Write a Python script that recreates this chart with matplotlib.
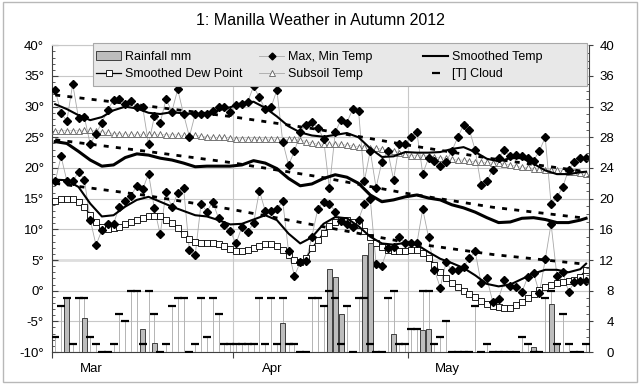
import matplotlib
matplotlib.use('Agg')
import matplotlib.pyplot as plt
from matplotlib.legend import Legend
from matplotlib.lines import Line2D
from matplotlib.patches import Patch, Rectangle
from matplotlib.ticker import MultipleLocator, FuncFormatter


plt.rcParams['font.family'] = ['Liberation Sans', 'DejaVu Sans']

TITLE = '1: Manilla Weather in Autumn 2012'
MONTHS = ['Mar', 'Apr', 'May']
MONTH_START = [0, 31, 61]
N_DAYS = 92

# daily values, 1 Mar .. 31 May (deg C, left axis)
max_temp = [32.7, 28.9, 27.7, 33.7, 28.1, 28.3, 23.9, 25.6, 27.4, 29.4,
            31.1, 31.3, 30.5, 31.0, 30.0, 29.9, 23.9, 28.4, 27.4, 31.2,
            29.2, 32.8, 28.8, 25.1, 28.8, 28.8, 28.8, 29.3, 29.9, 30.0,
            29.2, 30.3, 30.4, 30.8, 33.3, 31.5, 29.6, 29.9, 32.7, 24.3,
            20.5, 22.7, 25.8, 27.0, 27.5, 26.6, 24.8, 16.7, 25.8, 27.9,
            27.4, 29.6, 29.3, 17.9, 22.8, 16.8, 21.0, 22.8, 18.1, 23.9,
            23.9, 25.1, 25.8, 19.1, 21.6, 21.2, 20.3, 21.0, 22.8, 25.0,
            27.0, 26.2, 22.9, 17.2, 17.9, 19.7, 21.7, 22.9, 21.9, 22.1,
            21.9, 21.6, 21.2, 22.8, 25.0, 14.1, 15.2, 16.9, 19.7, 21.0,
            21.7, 21.7]
min_temp = [17.8, 21.9, 17.9, 17.8, 19.4, 18.1, 11.6, 7.4, 9.9, 10.9,
            10.9, 13.7, 14.7, 15.5, 17.1, 16.5, 19.1, 13.4, 9.2, 16.1,
            13.6, 15.9, 16.8, 6.6, 5.8, 14.2, 12.9, 14.5, 11.8, 10.7,
            9.7, 7.7, 10.4, 9.6, 11.0, 16.3, 13.0, 13.0, 13.3, 14.6,
            6.4, 2.4, 4.6, 4.8, 8.8, 13.3, 14.5, 14.2, 12.9, 11.4,
            10.9, 10.4, 11.6, 14.2, 15.0, 4.4, 4.1, 6.9, 7.2, 8.7,
            7.8, 7.7, 7.7, 13.3, 8.7, 3.4, 0.5, 4.6, 3.3, 3.4,
            3.9, 5.3, 6.4, 1.2, 2.0, -1.8, -1.3, 1.7, 0.8, 0.6,
            -0.2, 2.2, 2.9, -0.4, 5.1, 10.9, 2.4, 3.1, -0.2, 1.4,
            1.6, 1.6]
dew_point = [14.7, 14.9, 15.0, 14.9, 14.5, 13.7, 12.3, 11.2, 10.4, 10.0,
             10.2, 10.4, 10.9, 11.2, 11.6, 11.9, 12.2, 12.2, 12.1, 11.6,
             11.1, 10.2, 9.2, 8.4, 8.0, 7.8, 7.7, 7.7, 7.6, 7.3,
             6.8, 6.5, 6.4, 6.6, 6.9, 7.3, 7.6, 7.6, 7.3, 6.6,
             5.8, 5.0, 4.7, 5.3, 6.9, 8.2, 9.4, 10.5, 11.2, 11.6,
             11.6, 11.2, 10.7, 9.8, 8.7, 7.7, 7.2, 6.7, 6.5, 6.5,
             6.5, 6.7, 6.6, 6.1, 5.3, 4.2, 3.1, 2.0, 1.2, 0.6,
             0.0, -0.5, -1.1, -1.7, -2.1, -2.5, -2.7, -2.9, -2.8, -2.3,
             -1.8, -1.2, -0.5, 0.1, 0.6, 1.0, 1.3, 1.4, 1.5, 1.7,
             2.3, 3.4]
subsoil = [26.1, 26.1, 26.1, 26.1, 26.1, 26.2, 26.2, 26.1, 25.9, 25.8,
           25.6, 25.6, 25.5, 25.5, 25.5, 25.5, 25.5, 25.5, 25.5, 25.4,
           25.4, 25.4, 25.3, 25.3, 25.3, 25.2, 25.1, 25.0, 25.0, 25.0,
           24.9, 24.8, 24.7, 24.7, 24.7, 24.7, 24.7, 24.7, 24.7, 24.6,
           24.7, 24.7, 24.6, 24.3, 24.1, 23.9, 23.9, 23.9, 23.9, 23.9,
           23.7, 23.6, 23.5, 23.5, 23.3, 23.2, 23.1, 22.9, 22.8, 22.5,
           22.2, 22.0, 22.0, 22.0, 22.0, 21.8, 21.7, 21.6, 21.4, 21.3,
           21.3, 21.1, 21.0, 20.9, 20.9, 20.8, 20.8, 20.7, 20.5, 20.3,
           20.1, 20.1, 19.9, 19.8, 19.7, 19.7, 19.7, 19.6, 19.4, 19.4,
           19.2, 19.0]

# right axis: cloud (oktas) and rainfall (mm)
cloud = [2, 6, 7, 1, 7, 7, 2, 1, 0, 0,
         1, 5, 4, 8, 8, 1, 8, 5, 0, 1,
         6, 7, 7, 0, 1, 7, 2, 7, 5, 1,
         1, 1, 1, 1, 1, 7, 1, 7, 1, 7,
         1, 1, 0, 0, 7, 7, 6, 8, 7, 1,
         6, 0, 7, 7, 1, 0, 0, 7, 8, 1,
         1, 3, 3, 8, 8, 1, 2, 4, 0, 0,
         0, 0, 6, 0, 1, 0, 0, 0, 0, 0,
         2, 1, 0, 0, 7, 8, 1, 5, 1, 0,
         0, 1]
rain = [0, 0, 7.0, 0, 0, 4.4, 0, 0, 0, 0,
        0, 0, 0, 0, 0, 3.0, 0, 1.2, 0, 0,
        0, 0, 0, 0, 0, 0, 0, 0, 0, 0,
        0, 0, 0, 0, 0, 0, 0, 0, 0, 3.8,
        0, 0, 0, 0, 0, 0, 0, 10.8, 9.8, 5.0,
        0, 0, 0, 12.6, 14.2, 0, 0, 0, 2.3, 0,
        0, 0, 0, 2.9, 3.0, 0, 0, 0, 0, 0,
        0, 0, 0, 0, 0, 0, 0, 0, 0, 0,
        0, 0, 0.6, 0, 0, 6.3, 1.2, 0, 0, 0,
        0, 0]

# smoothed temperatures, read every second day
smooth_days = [0, 2, 4, 6, 8, 10, 12, 14, 16, 18, 20, 22, 24, 26, 28, 30,
               32, 34, 36, 38, 40, 42, 44, 46, 48, 50, 52, 54, 56, 58, 60,
               62, 64, 66, 68, 70, 72, 74, 76, 78, 80, 82, 84, 86, 88, 90,
               91]
smooth_max = [30.4, 29.6, 28.6, 27.8, 28.3, 29.4, 30.0, 29.7, 29.0, 28.8,
              29.1, 28.9, 28.8, 28.9, 29.4, 29.9, 30.6, 30.8, 29.8, 28.4,
              26.8, 25.8, 25.3, 25.1, 25.4, 25.7, 25.0, 23.2, 21.8, 21.9,
              22.6, 22.5, 22.5, 22.6, 23.1, 23.4, 22.6, 21.5, 21.1, 21.6,
              21.6, 20.7, 19.6, 19.0, 19.0, 19.3, 19.4]
smooth_mean = [24.3, 24.0, 22.7, 21.3, 20.3, 20.5, 21.7, 22.3, 22.1, 21.6,
               21.3, 20.8, 20.2, 20.3, 20.3, 20.3, 20.5, 21.2, 20.8, 19.9,
               18.3, 17.1, 17.4, 18.3, 18.9, 18.5, 17.5, 15.6, 14.5, 14.8,
               15.3, 15.6, 15.1, 14.8, 14.0, 13.5, 12.8, 11.9, 11.1, 11.2,
               11.8, 11.9, 11.6, 11.1, 11.1, 11.5, 11.8]
smooth_min = [18.1, 18.0, 16.9, 14.2, 12.1, 12.3, 13.7, 14.8, 15.3, 14.5,
              13.7, 13.0, 12.3, 12.1, 11.5, 10.8, 10.9, 11.6, 12.3, 11.5,
              9.3, 7.7, 8.7, 10.9, 12.0, 11.8, 10.5, 8.8, 7.7, 7.5,
              7.8, 7.5, 6.3, 5.2, 4.5, 3.7, 2.5, 1.1, 0.7, 1.0,
              1.9, 2.8, 3.4, 3.4, 3.0, 3.5, 4.4]

# trend lines (dashed)
trend_days = [0, 15, 30, 45, 60, 75, 91]
trend_max = [31.9, 30.2, 28.4, 26.3, 23.8, 21.5, 19.4]
trend_mean = [24.6, 22.8, 20.9, 18.6, 15.9, 13.6, 11.8]
trend_min = [17.5, 15.6, 13.3, 10.6, 7.9, 5.9, 4.3]

GRID = '#c8c8c8'
BAR_GREY = '#bdbdbd'
LINE_GREY = '#a8a8a8'
W, H = 640.0, 384.0


def day_x(days):
    """Centre of each day on the date axis."""
    return [d + 0.5 for d in days]


def deg(value, pos):
    return '{0:.0f}\u00b0'.format(value)


def fig_xy(px, py):
    """Pixel position (from top left) to figure fraction."""
    return px / W, 1 - py / H


if __name__ == '__main__':
    fig = plt.figure(figsize=(6.4, 3.84), dpi=100)
    fig.patches.append(Rectangle((0.004, 0.005), 0.992, 0.99,
                                 transform=fig.transFigure, fill=False,
                                 edgecolor='#b8b8b8', linewidth=1))
    fig.text(0.5, 0.947, TITLE, ha='center', va='center', fontsize=11.5)

    ax = fig.add_axes([0.0817, 0.0833, 0.8386, 0.7987])
    ax.set_xlim(0, N_DAYS)
    ax.set_ylim(-10, 40)

    xs = day_x(range(N_DAYS))
    sx = day_x(smooth_days)
    tx = day_x(trend_days)

    # grid
    for v in range(-10, 41, 5):
        ax.axhline(v, color=GRID, lw=0.8, zorder=0)
    ax.axhline(5, color='#dedede', lw=2.0, zorder=0)
    for m in MONTH_START[1:]:
        ax.axvline(m, color=GRID, lw=0.8, zorder=0)

    # temperatures
    ax.plot(xs, max_temp, color=LINE_GREY, lw=0.6, zorder=2)
    ax.plot(xs, min_temp, color=LINE_GREY, lw=0.6, zorder=2)
    ax.plot(xs, subsoil, color='#c8c8c8', lw=0.5, marker='^', ms=4,
            mfc='white', mec='#606060', mew=0.6, zorder=3)
    ax.plot(xs, dew_point, color='black', lw=0.9, marker='s', ms=3.8,
            mfc='white', mec='black', mew=0.6, zorder=4)
    for trend in (trend_max, trend_mean, trend_min):
        ax.plot(tx, trend, color='black', lw=2.0, dashes=(1.8, 2.6),
                zorder=4)
    ax.plot(sx, smooth_max, color='black', lw=1.5, zorder=5)
    ax.plot(sx, smooth_mean, color='black', lw=2.2, zorder=5)
    ax.plot(sx, smooth_min, color='black', lw=1.5, zorder=5)
    ax.plot(xs, max_temp, ls='none', marker='D', ms=3.7, color='black',
            zorder=6)
    ax.plot(xs, min_temp, ls='none', marker='D', ms=3.7, color='black',
            zorder=6)

    ax.yaxis.set_major_locator(MultipleLocator(5))
    ax.yaxis.set_minor_locator(MultipleLocator(1))
    ax.yaxis.set_major_formatter(FuncFormatter(deg))
    ax.tick_params(axis='y', which='both', direction='in', labelsize=9.5,
                   pad=6, color='#404040')
    ax.tick_params(axis='y', which='major', length=4)
    ax.tick_params(axis='y', which='minor', length=2)

    ax.set_xticks(MONTH_START)
    ax.set_xticklabels([''] * len(MONTH_START))
    ax.set_xticks([m + 6.7 for m in MONTH_START], minor=True)
    ax.set_xticklabels(MONTHS, minor=True)
    ax.tick_params(axis='x', which='major', direction='out', length=4,
                   color='#404040')
    ax.tick_params(axis='x', which='minor', length=0, labelsize=9.5, pad=8)

    for side in ('left', 'bottom'):
        ax.spines[side].set_color('#404040')
    ax.spines['top'].set_color(GRID)
    ax.spines['right'].set_visible(False)

    # right axis: rain and cloud
    ax2 = ax.twinx()
    ax2.set_ylim(0, 40)
    ax2.bar(xs, rain, width=0.85, color=BAR_GREY, edgecolor='#404040',
            linewidth=0.7, zorder=2)
    ax2.vlines([x for x, c in zip(xs, cloud) if c > 0], 0,
               [c for c in cloud if c > 0], color='#b4b4b4', lw=0.7,
               zorder=1)
    ax2.plot(xs, cloud, ls='none', marker='_', ms=5.2, mew=1.6,
             color='black', zorder=3)
    ax2.yaxis.set_major_locator(MultipleLocator(4))
    ax2.yaxis.set_minor_locator(MultipleLocator(1))
    ax2.tick_params(axis='y', which='major', direction='out', length=3,
                    labelsize=9.5, pad=15, color='#404040')
    ax2.tick_params(axis='y', which='minor', direction='in', length=2,
                    color='#404040')
    for label in ax2.get_yticklabels():
        label.set_horizontalalignment('right')
    ax2.spines['right'].set_color('#404040')
    for side in ('left', 'top', 'bottom'):
        ax2.spines[side].set_visible(False)

    # legend: grey box with three fixed columns
    x0, y0 = fig_xy(93, 86)
    ax2.add_patch(Rectangle((x0, y0), (587 - 93) / W, 43 / H,
                            transform=fig.transFigure, facecolor='#e8e8e8',
                            edgecolor='#a8a8a8', lw=0.8, zorder=20,
                            clip_on=False))
    columns = [
        (125, [Patch(facecolor=BAR_GREY, edgecolor='#404040', linewidth=0.7),
               Line2D([], [], color='black', lw=0.9, marker='s', ms=3.8,
                      mfc='white', mec='black', mew=0.6)],
         ['Rainfall mm', 'Smoothed Dew Point']),
        (288, [Line2D([], [], color=LINE_GREY, lw=0.6, marker='D', ms=3.5,
                      mfc='black', mec='black'),
               Line2D([], [], color=LINE_GREY, lw=0.6, marker='^', ms=4,
                      mfc='white', mec='#606060', mew=0.6)],
         ['Max, Min Temp', 'Subsoil Temp']),
        (452, [Line2D([], [], color='black', lw=1.5),
               Line2D([], [], ls='none', marker='_', ms=5.2, mew=1.6,
                      color='black')],
         ['Smoothed Temp', '[T] Cloud']),
    ]
    fs = 9
    for text_x, handles, labels in columns:
        anchor = fig_xy(text_x - (2.0 + 0.3) * fs * 100 / 72, 51)
        leg = Legend(ax2, handles, labels, loc='upper left',
                     bbox_to_anchor=anchor, bbox_transform=fig.transFigure,
                     fontsize=fs, frameon=False, borderpad=0,
                     borderaxespad=0, labelspacing=0.42, handlelength=2.0,
                     handletextpad=0.3)
        leg.set_zorder(21)
        ax2.add_artist(leg)

    fig.savefig('out.png', dpi=100)
